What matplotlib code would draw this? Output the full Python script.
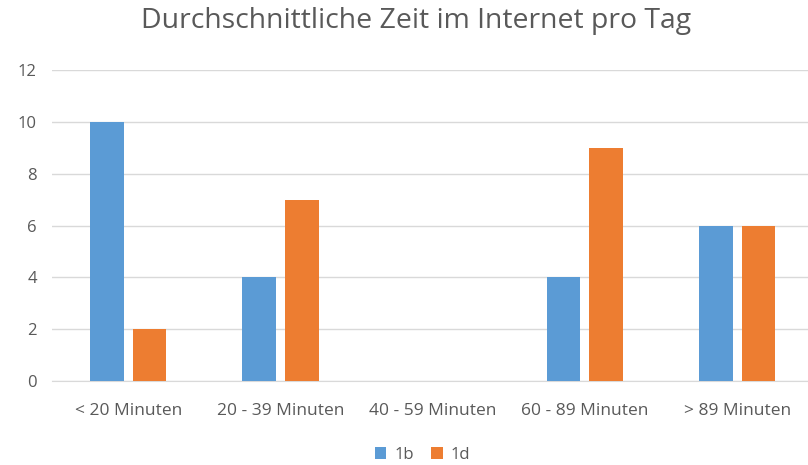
import numpy as np
import matplotlib.pyplot as plt

plt.rcParams['font.family'] = ['Open Sans', 'DejaVu Sans']

categories = ['< 20 Minuten', '20 - 39 Minuten', '40 - 59 Minuten', '60 - 89 Minuten', '> 89 Minuten']
series_1b = [10, 4, 0, 4, 6]
series_1d = [2, 7, 0, 9, 6]

text_col = '#595959'
fig = plt.figure(figsize=(8.08, 4.65), dpi=100)
ax = fig.add_axes([0.0645, 0.181, 0.942, 0.668])

x = np.arange(len(categories))
w = 0.22
ax.bar(x - 0.14, series_1b, w, color='#5B9BD5', label='1b', zorder=3)
ax.bar(x + 0.14, series_1d, w, color='#ED7D31', label='1d', zorder=3)

ax.set_xlim(-0.5, len(categories) - 0.5)
ax.set_ylim(0, 12)
ax.set_yticks(range(0, 13, 2))
ax.set_xticks(x)
ax.set_xticklabels(categories)
ax.tick_params(axis='both', length=0, colors=text_col, labelsize=12.5)
ax.tick_params(axis='y', pad=11, labelsize=12)
ax.tick_params(axis='x', pad=16)
ax.yaxis.grid(True, color='#D9D9D9', linewidth=1, zorder=0)
for s in ['top', 'right', 'left']:
    ax.spines[s].set_visible(False)
ax.spines['bottom'].set_color('#D9D9D9')

fig.suptitle('Durchschnittliche Zeit im Internet pro Tag', x=0.515, y=0.985,
             fontsize=20.4, color=text_col)
fig.legend(loc='lower center', ncol=2, frameon=False, fontsize=12,
           bbox_to_anchor=(0.523, -0.028), handlelength=0.7, handleheight=0.7,
           columnspacing=1.0, handletextpad=0.5, labelcolor=text_col)

fig.savefig('out.png', dpi=100)
